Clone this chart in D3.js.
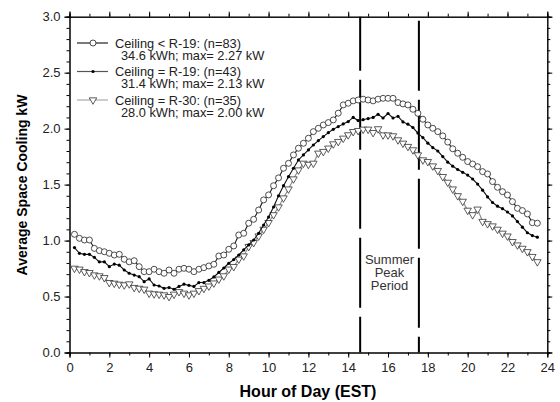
<!DOCTYPE html>
<html>
<head>
<meta charset="utf-8">
<script src="https://cdn.jsdelivr.net/npm/d3@7"></script>
<style>
  body { margin: 0; background: #fff; }
  svg text { font-family: "Liberation Sans", Arial, sans-serif; }
</style>
</head>
<body>
<svg id="chart" width="560" height="402"></svg>
<script>
/* Hourly average space cooling by ceiling insulation level */

// hour of day (15 minute steps)
var hours = [0.25,0.5,0.75,1,1.25,1.5,1.75,2,2.25,2.5,2.75,3,3.25,3.5,3.75,4,4.25,4.5,4.75,5,
  5.25,5.5,5.75,6,6.25,6.5,6.75,7,7.25,7.5,7.75,8,8.25,8.5,8.75,9,9.25,9.5,9.75,10,
  10.25,10.5,10.75,11,11.25,11.5,11.75,12,12.25,12.5,12.75,13,13.25,13.5,13.75,14,14.25,14.5,14.75,15,
  15.25,15.5,15.75,16,16.25,16.5,16.75,17,17.25,17.5,17.75,18,18.25,18.5,18.75,19,19.25,19.5,19.75,20,
  20.25,20.5,20.75,21,21.25,21.5,21.75,22,22.25,22.5,22.75,23,23.25,23.5];

// Ceiling < R-19
var lowR = [1.056,1.02,1.005,1.005,0.93,0.91,0.90,0.886,0.871,0.877,0.833,0.81,0.82,0.767,0.722,0.722,0.744,0.722,0.708,0.737,
  0.708,0.744,0.752,0.744,0.722,0.744,0.758,0.773,0.788,0.862,0.871,0.922,0.952,1.05,1.065,1.155,1.19,1.273,1.363,1.408,
  1.49,1.56,1.646,1.69,1.765,1.825,1.869,1.914,1.973,2.003,2.033,2.054,2.078,2.138,2.212,2.227,2.248,2.256,2.263,2.256,
  2.248,2.263,2.271,2.271,2.271,2.233,2.221,2.212,2.173,2.137,2.084,2.033,2.003,1.973,1.935,1.88,1.82,1.78,1.744,1.706,
  1.684,1.66,1.616,1.595,1.527,1.476,1.437,1.407,1.348,1.288,1.268,1.238,1.16,1.155];

// Ceiling = R-19
var midR = [0.937,0.886,0.877,0.877,0.85,0.81,0.81,0.767,0.79,0.78,0.737,0.708,0.692,0.677,0.633,0.657,0.603,0.594,0.573,0.58,
  0.565,0.59,0.61,0.60,0.59,0.625,0.625,0.645,0.675,0.715,0.755,0.797,0.83,0.871,0.916,0.961,1.005,1.065,1.139,1.21,
  1.30,1.40,1.49,1.571,1.646,1.72,1.765,1.81,1.854,1.893,1.929,1.964,1.994,2.018,2.042,2.063,2.10,2.072,2.08,2.09,
  2.10,2.128,2.095,2.135,2.095,2.11,2.06,2.04,2.01,1.96,1.92,1.87,1.83,1.80,1.75,1.70,1.665,1.635,1.61,1.585,
  1.55,1.505,1.45,1.39,1.34,1.307,1.285,1.255,1.22,1.17,1.12,1.07,1.045,1.03];

// Ceiling = R-30
var highR = [0.752,0.744,0.722,0.713,0.692,0.684,0.668,0.624,0.618,0.609,0.603,0.612,0.58,0.573,0.565,0.529,0.523,0.52,0.514,0.499,
  0.52,0.543,0.529,0.514,0.529,0.552,0.572,0.593,0.62,0.655,0.684,0.744,0.767,0.833,0.862,0.946,0.981,1.04,1.10,1.16,
  1.23,1.30,1.38,1.46,1.55,1.63,1.69,1.68,1.69,1.78,1.795,1.825,1.863,1.884,1.914,1.944,1.973,1.982,1.994,1.994,
  1.964,1.998,1.943,1.943,1.935,1.899,1.869,1.84,1.81,1.765,1.72,1.705,1.666,1.625,1.571,1.52,1.46,1.40,1.35,1.27,
  1.23,1.28,1.17,1.15,1.13,1.10,1.065,1.04,0.99,0.96,0.93,0.90,0.857,0.81];

var legendNames = ["Ceiling < R-19: (n=83)", "Ceiling = R-19: (n=43)", "Ceiling = R-30: (n=35)"];
var legendNotes = ["34.6 kWh; max= 2.27 kW", "31.4 kWh; max= 2.13 kW", "28.0 kWh; max= 2.00 kW"];
var peakHours = [14.6, 17.55];
var peakLabel = ["Summer", "Peak", "Period"];
var xTicks = [0, 2, 4, 6, 8, 10, 12, 14, 16, 18, 20, 22, 24];
var yTicks = [0, 0.5, 1.0, 1.5, 2.0, 2.5, 3.0];

var svg = d3.select("#chart");
let plotL = 69.5, plotR = 547.3, plotT = 16.7, plotB = 352.5;

let x = d3.scaleLinear().domain([0, 24]).range([plotL, plotR]);
let y = d3.scaleLinear().domain([0, 3]).range([plotB, plotT]);

svg.append("rect").attr("width", 560).attr("height", 402).attr("fill", "#fff");

/* Axes */
function styleAxis(g) {
    g.select(".domain").attr("stroke", "#000").attr("stroke-width", 1);
    g.selectAll(".tick line").attr("stroke", "#000");
    g.selectAll(".tick text").attr("font-size", 13).attr("fill", "#222")
        .attr("font-family", "Liberation Sans, Arial, sans-serif");
}

let xMinor = d3.range(0, 25, 1);
let yMinor = d3.range(0, 3.01, 0.1);

svg.append("g").attr("transform", "translate(0," + plotB + ")")
    .call(d3.axisBottom(x).tickValues(xMinor).tickSize(3).tickFormat(""))
    .call(styleAxis);
svg.append("g").attr("transform", "translate(0," + plotB + ")")
    .call(d3.axisBottom(x).tickValues(xTicks).tickSize(5).tickPadding(5).tickFormat(d3.format("d")))
    .call(styleAxis);
svg.append("g").attr("transform", "translate(0," + plotT + ")")
    .call(d3.axisTop(x).tickValues(xMinor).tickSize(3).tickFormat(""))
    .call(styleAxis);
svg.append("g").attr("transform", "translate(0," + plotT + ")")
    .call(d3.axisTop(x).tickValues(xTicks).tickSize(5).tickFormat(""))
    .call(styleAxis);

svg.append("g").attr("transform", "translate(" + plotL + ",0)")
    .call(d3.axisLeft(y).tickValues(yMinor).tickSize(3).tickFormat(""))
    .call(styleAxis);
svg.append("g").attr("transform", "translate(" + plotL + ",0)")
    .call(d3.axisLeft(y).tickValues(yTicks).tickSize(5).tickPadding(4).tickFormat(d3.format(".1f")))
    .call(styleAxis);
svg.append("g").attr("transform", "translate(" + plotR + ",0)")
    .call(d3.axisRight(y).tickValues(yMinor).tickSize(3).tickFormat(""))
    .call(styleAxis);
svg.append("g").attr("transform", "translate(" + plotR + ",0)")
    .call(d3.axisRight(y).tickValues(yTicks).tickSize(5).tickFormat(""))
    .call(styleAxis);

// axis titles
svg.append("text")
    .attr("x", 308).attr("y", 397)
    .attr("text-anchor", "middle").attr("font-size", 16).attr("font-weight", "bold")
    .text("Hour of Day (EST)");
svg.append("text")
    .attr("transform", "translate(27,185) rotate(-90)")
    .attr("text-anchor", "middle").attr("font-size", 14).attr("font-weight", "bold")
    .text("Average Space Cooling kW");

/* Peak period */
svg.selectAll(".peak").data(peakHours).enter().append("line")
    .attr("class", "peak")
    .attr("x1", d => x(d)).attr("x2", d => x(d))
    .attr("y1", plotT).attr("y2", plotB)
    .attr("stroke", "#000").attr("stroke-width", 2)
    .attr("stroke-dasharray", "70,9")
    .attr("stroke-dashoffset", (d, i) => i === 0 ? 16 : -4);

svg.selectAll(".peakText").data(peakLabel).enter().append("text")
    .attr("class", "peakText")
    .attr("x", x((peakHours[0] + peakHours[1]) / 2))
    .attr("y", (d, i) => 263.5 + i * 13.2)
    .attr("text-anchor", "middle").attr("font-size", 13).attr("fill", "#333")
    .text(d => d);

/* Series */
let series = [
    {values: lowR, line: "#1a1a1a", marker: "circle"},
    {values: midR, line: "#111", marker: "dot"},
    {values: highR, line: "#8a8a8a", marker: "triangle"}
];

let lineGen = d3.line()
    .x(d => x(d[0]))
    .y(d => y(d[1]));

let triangle = d3.symbol().type(d3.symbolTriangle).size(24);

function drawMarker(sel, kind) {
    if (kind === "circle") {
        sel.append("circle").attr("r", 3)
            .attr("fill", "#fff").attr("stroke", "#222").attr("stroke-width", 0.8);
    } else if (kind === "dot") {
        sel.append("circle").attr("r", 1.6).attr("fill", "#000");
    } else {
        sel.append("path").attr("d", triangle)
            .attr("transform", "rotate(180)")
            .attr("fill", "#fff").attr("stroke", "#333").attr("stroke-width", 0.8);
    }
}

series.slice().reverse().forEach(function(s) {
    let pts = hours.map((h, i) => [h, s.values[i]]);
    svg.append("path")
        .datum(pts)
        .attr("fill", "none")
        .attr("stroke", s.line)
        .attr("stroke-width", 1.1)
        .attr("d", lineGen);
    let g = svg.append("g").selectAll("g").data(pts).enter().append("g")
        .attr("transform", d => "translate(" + x(d[0]) + "," + y(d[1]) + ")");
    drawMarker(g, s.marker);
});

/* Legend */
let legendColors = ["#222", "#555", "#aaa"];
let lg = svg.append("g");
legendNames.forEach(function(name, i) {
    let cy = 43 + i * 28.5;
    lg.append("line")
        .attr("x1", 77).attr("x2", 108).attr("y1", cy).attr("y2", cy)
        .attr("stroke", legendColors[i]).attr("stroke-width", 1.2);
    let m = lg.append("g").attr("transform", "translate(93," + cy + ")");
    drawMarker(m, series[i].marker);
    lg.append("text").attr("x", 115).attr("y", cy + 4.5)
        .attr("font-size", 12.8).attr("fill", "#222").text(name);
    lg.append("text").attr("x", 121).attr("y", cy + 16.5)
        .attr("font-size", 12.8).attr("fill", "#222").text(legendNotes[i]);
});
</script>
</body>
</html>
